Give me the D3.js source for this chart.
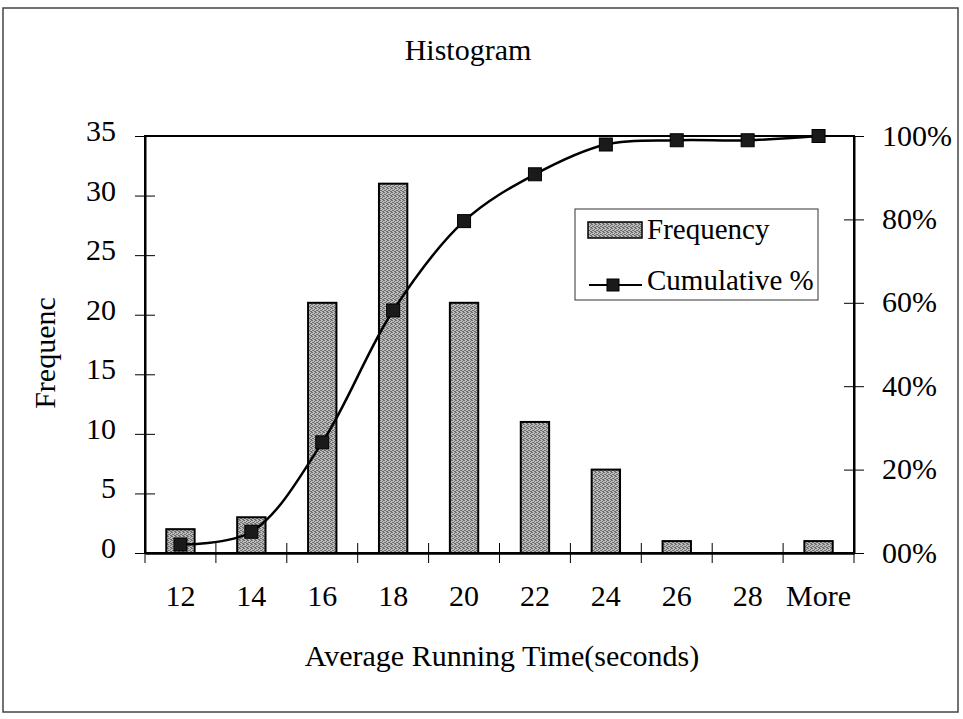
<!DOCTYPE html>
<html>
<head>
<meta charset="utf-8">
<script src="https://cdn.jsdelivr.net/npm/d3@7"></script>
<style>
  body { margin: 0; background: #fff; }
  svg { font-family: "Liberation Serif", "Times New Roman", serif; }
</style>
</head>
<body>
<div></div>
<script>
// dati
var categories = ["12", "14", "16", "18", "20", "22", "24", "26", "28", "More"];
var frequency = [2, 3, 21, 31, 21, 11, 7, 1, 0, 1];
var cumulative = [2.04, 5.10, 26.53, 58.16, 79.59, 90.82, 97.96, 98.98, 98.98, 100];
var leftTicks = [0, 5, 10, 15, 20, 25, 30, 35];
var rightTicks = [0, 20, 40, 60, 80, 100];
var rightTickLabels = ["00%", "20%", "40%", "60%", "80%", "100%"];

var width = 963;
var height = 719;
// margini del plot (non usare "top": e' window.top)
var pLeft = 145, pRight = 854, pTop = 136, pBottom = 553;
var fontSize = "30px";

var svg = d3.select("div")
            .append("svg")
            .attr("width", width)
            .attr("height", height);

// texture grigia delle barre
var defs = svg.append("defs");
var pat = defs.append("pattern")
              .attr("id", "dither")
              .attr("patternUnits", "userSpaceOnUse")
              .attr("width", 4)
              .attr("height", 4);
pat.append("rect").attr("width", 4).attr("height", 4).attr("fill", "#bdbdbd");
[[0, 0], [2, 1], [1, 2], [3, 3], [3, 0], [0, 2], [2, 3]].forEach(function(p) {
    pat.append("rect")
       .attr("x", p[0]).attr("y", p[1])
       .attr("width", 1).attr("height", 1)
       .attr("fill", "#6e6e6e");
});

// cornice esterna
svg.append("rect")
   .attr("x", 3)
   .attr("y", 8)
   .attr("width", 955)
   .attr("height", 704)
   .attr("fill", "none")
   .attr("stroke", "#444")
   .attr("stroke-width", 1.5);

var x = d3.scaleBand()
          .domain(categories)
          .range([pLeft, pRight])
          .paddingInner(0.6)
          .paddingOuter(0.3);

var yL = d3.scaleLinear().domain([0, 35]).range([pBottom, pTop]);
var yR = d3.scaleLinear().domain([0, 100]).range([pBottom, pTop]);

// bordo del plot
svg.append("rect")
   .attr("x", pLeft)
   .attr("y", pTop)
   .attr("width", pRight - pLeft)
   .attr("height", pBottom - pTop)
   .attr("fill", "none")
   .attr("stroke", "#000")
   .attr("stroke-width", 2);

// barre
svg.append("g")
   .selectAll("rect")
   .data(frequency)
   .enter()
   .append("rect")
   .attr("x", function(d, i) { return x(categories[i]); })
   .attr("y", function(d) { return yL(d); })
   .attr("width", x.bandwidth())
   .attr("height", function(d) { return pBottom - yL(d); })
   .attr("fill", "url(#dither)")
   .attr("stroke", "#000")
   .attr("stroke-width", 2);

// asse sinistro
var gL = svg.append("g")
            .attr("transform", "translate(" + pLeft + ",0)")
            .call(d3.axisLeft(yL).tickValues(leftTicks).tickSizeOuter(0).tickPadding(23));
gL.select(".domain").attr("stroke-width", 2);
gL.selectAll(".tick line").attr("x1", -10).attr("x2", 10);
gL.selectAll(".tick text")
  .attr("dy", "0.15em")
  .style("font-size", fontSize)
  .style("font-family", "Liberation Serif, serif");

// asse destro
var gR = svg.append("g")
            .attr("transform", "translate(" + pRight + ",0)")
            .call(d3.axisRight(yR).tickValues(rightTicks)
                                  .tickFormat(function(d, i) { return rightTickLabels[i]; })
                                  .tickSizeOuter(0).tickPadding(22));
gR.select(".domain").attr("stroke-width", 2);
gR.selectAll(".tick line").attr("x1", -10).attr("x2", 10);
gR.selectAll(".tick text")
  .attr("dy", "0.3em")
  .style("font-size", fontSize)
  .style("font-family", "Liberation Serif, serif");

// asse x: etichette
var gX = svg.append("g")
            .attr("transform", "translate(0," + pBottom + ")")
            .call(d3.axisBottom(x).tickSize(0).tickPadding(32));
gX.select(".domain").attr("stroke-width", 2.5);
gX.selectAll(".tick text")
  .style("font-size", fontSize)
  .style("font-family", "Liberation Serif, serif");

// asse x: tacche tra le categorie
var step = x.step();
var bounds = d3.range(categories.length + 1).map(function(i) {
    return x(categories[0]) - x.paddingInner() * step / 2 + i * step;
});
svg.append("g")
   .selectAll("line")
   .data(bounds)
   .enter()
   .append("line")
   .attr("x1", function(d) { return d; })
   .attr("x2", function(d) { return d; })
   .attr("y1", pBottom - 10)
   .attr("y2", pBottom + 10)
   .attr("stroke", "#000")
   .attr("stroke-width", 1);

// linea cumulativa
var line = d3.line()
             .x(function(d, i) { return x(categories[i]) + x.bandwidth() / 2; })
             .y(function(d) { return yR(d); })
             .curve(d3.curveCatmullRom.alpha(0.5));

svg.append("path")
   .datum(cumulative)
   .attr("d", line)
   .attr("fill", "none")
   .attr("stroke", "#000")
   .attr("stroke-width", 2.5);

svg.append("g")
   .selectAll("rect")
   .data(cumulative)
   .enter()
   .append("rect")
   .attr("x", function(d, i) { return x(categories[i]) + x.bandwidth() / 2 - 6.5; })
   .attr("y", function(d) { return yR(d) - 6.5; })
   .attr("width", 13)
   .attr("height", 13)
   .attr("fill", "#1a1a1a")
   .attr("stroke", "#000")
   .attr("stroke-width", 1);

// titoli
svg.append("text")
   .attr("x", 468)
   .attr("y", 60)
   .attr("text-anchor", "middle")
   .style("font-size", fontSize)
   .text("Histogram");

svg.append("text")
   .attr("x", 502)
   .attr("y", 666)
   .attr("text-anchor", "middle")
   .style("font-size", fontSize)
   .text("Average Running Time(seconds)");

svg.append("text")
   .attr("transform", "translate(55,353) rotate(-90)")
   .attr("text-anchor", "middle")
   .style("font-size", fontSize)
   .text("Frequenc");

// legenda
var leg = svg.append("g");
leg.append("rect")
   .attr("x", 575)
   .attr("y", 209)
   .attr("width", 243)
   .attr("height", 91)
   .attr("fill", "#fff")
   .attr("stroke", "#333")
   .attr("stroke-width", 1);
leg.append("rect")
   .attr("x", 588)
   .attr("y", 222)
   .attr("width", 54)
   .attr("height", 16)
   .attr("fill", "url(#dither)")
   .attr("stroke", "#000")
   .attr("stroke-width", 1.5);
leg.append("text")
   .attr("x", 647)
   .attr("y", 239)
   .style("font-size", "29px")
   .text("Frequency");
leg.append("line")
   .attr("x1", 589)
   .attr("x2", 642)
   .attr("y1", 285)
   .attr("y2", 285)
   .attr("stroke", "#000")
   .attr("stroke-width", 2);
leg.append("rect")
   .attr("x", 607)
   .attr("y", 279)
   .attr("width", 12)
   .attr("height", 12)
   .attr("fill", "#1a1a1a")
   .attr("stroke", "#000");
leg.append("text")
   .attr("x", 647)
   .attr("y", 290)
   .style("font-size", "29px")
   .text("Cumulative %");
</script>
</body>
</html>
